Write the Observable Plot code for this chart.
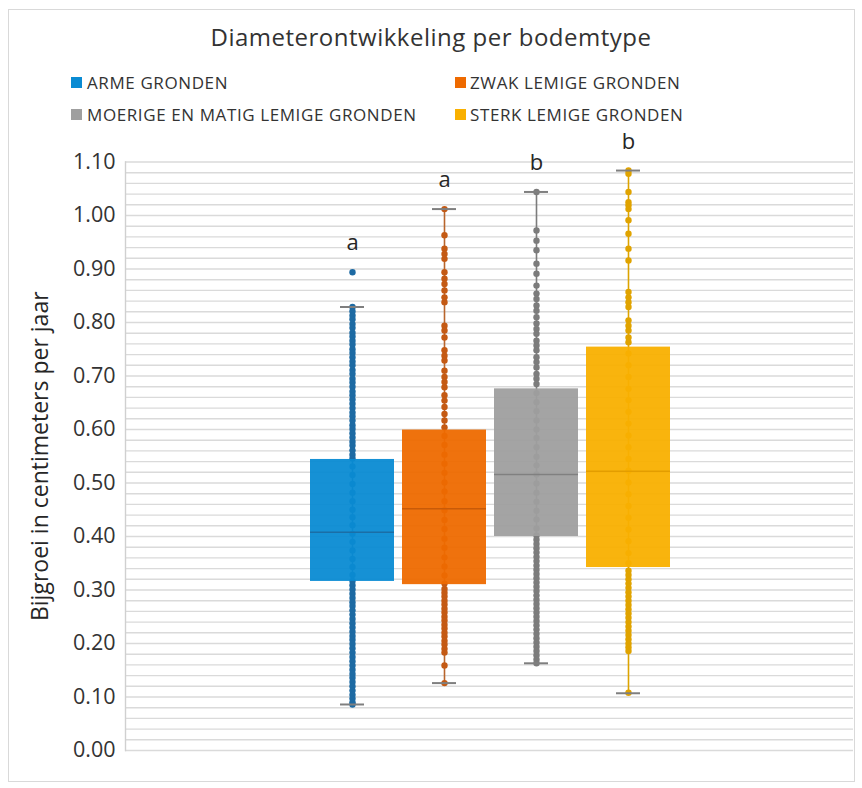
<!DOCTYPE html>
<html>
<head>
<meta charset="utf-8">
<script src="https://cdn.jsdelivr.net/npm/d3@7"></script>
<script src="https://cdn.jsdelivr.net/npm/@observablehq/plot@0.6"></script>
<style>
  html, body { margin: 0; padding: 0; background: #ffffff; }
  body { width: 862px; height: 788px; overflow: hidden; font-family: "Open Sans", sans-serif; color: #404040; }
  #wrap { position: relative; width: 862px; height: 788px; }
  #border { position: absolute; left: 8px; top: 9px; width: 847px; height: 773px; border: 1px solid #d9d9d9; box-sizing: border-box; }
  #title { position: absolute; left: 0; top: 23px; width: 862px; text-align: center; font-size: 24px; line-height: 28px; letter-spacing: 0.5px; color: #333333; }
  .leg { position: absolute; font-size: 17px; line-height: 20px; letter-spacing: 0.6px; color: #333333; white-space: nowrap; }
  .sw { position: absolute; width: 11px; height: 11px; }
  #chart { position: absolute; left: 0; top: 140px; }
</style>
</head>
<body>
<div id="wrap">
  <div id="border"></div>
  <div id="title"></div>
  <div id="legend"></div>
  <div id="chart"></div>
</div>
<script>
// ---- data ----
const categories = ["ARME GRONDEN", "ZWAK LEMIGE GRONDEN", "MOERIGE EN MATIG LEMIGE GRONDEN", "STERK LEMIGE GRONDEN"];
const boxColors = ["#0a8bd3", "#ee6a00", "#9f9f9f", "#f9b000"];
const dotColors = ["#1d6aa3", "#c45a14", "#7c7c7c", "#e0a300"];
const whiskerColors = ["#1d6aa3", "#b8652c", "#7c7c7c", "#dca400"];
const medianColors = ["#1b6ea6", "#c85a08", "#808080", "#e39d00"];
const q1 = [0.316, 0.310, 0.400, 0.342];
const median = [0.408, 0.452, 0.516, 0.522];
const q3 = [0.544, 0.599, 0.676, 0.754];
const whiskerLow = [0.086, 0.126, 0.163, 0.107];
const whiskerHigh = [0.829, 1.012, 1.044, 1.084];
const letters = ["a", "a", "b", "b"];
const yTicks = [0.00, 0.10, 0.20, 0.30, 0.40, 0.50, 0.60, 0.70, 0.80, 0.90, 1.00, 1.10];
const titleText = "Diameterontwikkeling per bodemtype";
const yLabel = "Bijgroei in centimeters per jaar";

const armePoints = [0.894, 0.829, 0.821, 0.813, 0.806, 0.797, 0.790, 0.781, 0.774, 0.766, 0.759, 0.750, 0.743, 0.735, 0.727, 0.720, 0.711, 0.704, 0.695, 0.688, 0.680, 0.671, 0.664, 0.656, 0.648, 0.640, 0.632, 0.625, 0.617, 0.608, 0.601, 0.593, 0.585, 0.577, 0.570, 0.561, 0.553, 0.546, 0.531, 0.515, 0.498, 0.482, 0.466, 0.450, 0.436, 0.421, 0.405, 0.390, 0.374, 0.358, 0.343, 0.328, 0.317, 0.309, 0.301, 0.293, 0.285, 0.277, 0.270, 0.262, 0.254, 0.246, 0.238, 0.230, 0.222, 0.214, 0.207, 0.199, 0.191, 0.183, 0.175, 0.167, 0.159, 0.151, 0.143, 0.136, 0.128, 0.120, 0.112, 0.104, 0.097, 0.090, 0.086];
const zwakPoints = [1.012, 0.963, 0.938, 0.928, 0.919, 0.894, 0.882, 0.872, 0.860, 0.847, 0.838, 0.794, 0.785, 0.772, 0.748, 0.738, 0.729, 0.710, 0.698, 0.689, 0.679, 0.664, 0.654, 0.642, 0.629, 0.617, 0.604, 0.588, 0.571, 0.553, 0.536, 0.519, 0.501, 0.484, 0.466, 0.449, 0.431, 0.414, 0.396, 0.379, 0.361, 0.344, 0.327, 0.312, 0.302, 0.295, 0.288, 0.280, 0.273, 0.265, 0.258, 0.250, 0.243, 0.235, 0.228, 0.220, 0.213, 0.205, 0.198, 0.190, 0.183, 0.159, 0.126];
const moerigPoints = [1.044, 0.972, 0.953, 0.935, 0.910, 0.891, 0.869, 0.854, 0.844, 0.832, 0.822, 0.810, 0.798, 0.788, 0.779, 0.766, 0.757, 0.748, 0.735, 0.726, 0.716, 0.704, 0.695, 0.685, 0.668, 0.651, 0.634, 0.617, 0.600, 0.584, 0.567, 0.549, 0.533, 0.516, 0.499, 0.482, 0.465, 0.448, 0.432, 0.415, 0.402, 0.394, 0.386, 0.378, 0.370, 0.362, 0.354, 0.346, 0.338, 0.330, 0.322, 0.314, 0.306, 0.298, 0.290, 0.282, 0.274, 0.266, 0.258, 0.250, 0.242, 0.234, 0.226, 0.218, 0.210, 0.202, 0.194, 0.186, 0.178, 0.170, 0.163];
const sterkPoints = [1.084, 1.078, 1.044, 1.025, 1.019, 1.012, 0.991, 0.966, 0.938, 0.916, 0.857, 0.847, 0.838, 0.829, 0.804, 0.794, 0.785, 0.772, 0.763, 0.742, 0.720, 0.698, 0.676, 0.655, 0.633, 0.611, 0.589, 0.567, 0.545, 0.523, 0.501, 0.479, 0.457, 0.435, 0.413, 0.391, 0.369, 0.350, 0.336, 0.328, 0.320, 0.312, 0.304, 0.296, 0.288, 0.280, 0.272, 0.264, 0.256, 0.248, 0.240, 0.232, 0.224, 0.216, 0.208, 0.200, 0.193, 0.186, 0.108];

// ---- tables built from the arrays ----
const pointSeries = [armePoints, zwakPoints, moerigPoints, sterkPoints];
const stats = categories.map((c, i) => ({
  cat: c, i, q1: q1[i], median: median[i], q3: q3[i],
  low: whiskerLow[i], high: whiskerHigh[i], letter: letters[i],
  top: d3.max(pointSeries[i])
}));
const points = pointSeries.flatMap((arr, i) => arr.map(v => ({cat: categories[i], i, v})));

// ---- title & legend ----
document.getElementById("title").textContent = titleText;
const legend = document.getElementById("legend");
const legPos = [
  {sx: 71, tx: 87, y: 73},
  {sx: 455, tx: 470, y: 73},
  {sx: 71, tx: 87, y: 105},
  {sx: 455, tx: 470, y: 105}
];
categories.forEach((c, i) => {
  const p = legPos[i];
  const sw = document.createElement("div");
  sw.className = "sw";
  sw.style.left = p.sx + "px"; sw.style.top = (p.y + 4) + "px"; sw.style.background = boxColors[i];
  legend.appendChild(sw);
  const t = document.createElement("div");
  t.className = "leg";
  t.style.left = p.tx + "px"; t.style.top = p.y + "px";
  t.textContent = c;
  legend.appendChild(t);
});

// ---- chart ----
const gridTicks = d3.range(0, 56).map(k => +(k * 0.02).toFixed(2));
const chart = Plot.plot({
  width: 862,
  height: 648,
  marginLeft: 125,
  marginRight: 9,
  marginTop: 21.5,
  marginBottom: 38,
  style: {fontFamily: "'Open Sans', sans-serif", color: "#333333", background: "transparent", overflow: "visible"},
  x: {type: "band", domain: categories, range: [308, 672], paddingInner: 0.086, paddingOuter: 0, axis: null},
  y: {domain: [0, 1.1], axis: null},
  marks: [
    Plot.ruleY(gridTicks, {stroke: "#dadada", strokeWidth: 1.4}),
    Plot.frame({anchor: "left", stroke: "#d0d0d0", strokeWidth: 1.4}),
    Plot.axisY({ticks: yTicks, tickSize: 0, tickPadding: 10, fontSize: 21.5, tickFormat: d => d.toFixed(2), label: null}),
    Plot.text([yLabel], {frameAnchor: "left", rotate: -90, dx: -85, fontSize: 23, fill: "#262626", textAnchor: "middle", lineAnchor: "middle", style: "letter-spacing:1px"}),
    Plot.ruleX(stats, {x: "cat", y1: "low", y2: "high", stroke: d => whiskerColors[d.i], strokeWidth: 1.6}),
    Plot.dot(points, {x: "cat", y: "v", r: 3.2, fill: d => dotColors[d.i], stroke: null}),
    Plot.barY(stats, {x: "cat", y1: "q1", y2: "q3", fill: d => boxColors[d.i], fillOpacity: 0.95}),
    Plot.tickY(stats, {x: "cat", y: "median", stroke: d => medianColors[d.i], strokeWidth: 1.4}),
    Plot.tickY(stats, {x: "cat", y: "low", stroke: "#7f7f7f", strokeWidth: 2, insetLeft: 30, insetRight: 30}),
    Plot.tickY(stats, {x: "cat", y: "high", stroke: "#7f7f7f", strokeWidth: 2, insetLeft: 30, insetRight: 30}),
    Plot.text(stats, {x: "cat", y: "top", text: "letter", dy: -29, fontSize: 22, fill: "#262626", lineAnchor: "middle"})
  ]
});
document.getElementById("chart").appendChild(chart);
</script>
</body>
</html>
